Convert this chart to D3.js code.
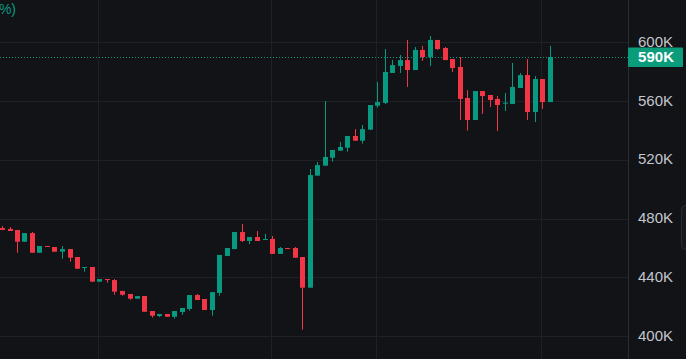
<!DOCTYPE html>
<html><head><meta charset="utf-8">
<script src="https://cdn.jsdelivr.net/npm/d3@7/dist/d3.min.js"></script>
<style>
html,body{margin:0;padding:0;background:#121317;overflow:hidden;}
svg{display:block;font-family:"Liberation Sans",Arial,sans-serif;}
</style></head><body>
<svg id="c" width="686" height="359"></svg>
<script>
// OHLC values in thousands (K)
const openVals  = [473.5,472.9,472.2,464.2,470.1,456.7,461.3,460.6,457.4,459.2,453.8,446.5,447.0,437.0,438.8,438.1,430.7,428.6,425.4,427.2,417.0,413.6,415.0,413.1,416.3,418.4,427.9,425.2,417.7,429.3,454.5,459.2,470.8,464.7,467.4,465.4,466.1,455.9,459.9,459.9,453.8,432.9,509.2,516.0,521.4,526.2,528.2,536.2,533.0,540.5,556.8,558.7,579.1,583.9,587.9,581.1,594.8,590.0,601.6,596.1,588.6,583.2,562.1,547.1,566.8,564.1,561.4,558.2,558.0,568.9,577.7,552.5,575.0,559.3];
const highVals  = [474.9,474.2,472.2,470.1,470.8,461.3,461.3,460.6,461.3,459.2,453.8,447.0,447.0,438.8,438.8,438.8,430.7,428.6,427.2,427.2,417.0,415.0,415.0,417.0,419.1,427.9,428.6,425.2,429.9,455.2,459.9,470.8,476.3,467.4,471.5,469.5,468.1,460.6,459.9,460.6,453.8,513.7,518.5,560.0,526.7,532.1,536.2,540.9,543.7,557.3,573.0,595.4,588.0,591.4,601.6,596.8,597.5,604.3,601.6,596.8,588.6,590.0,567.5,566.8,566.8,564.1,563.4,565.5,585.9,579.1,588.6,577.0,575.0,597.5];
const lowVals   = [472.2,471.5,456.7,464.2,456.7,456.7,460.8,457.4,452.6,450.6,445.8,443.8,437.0,437.0,436.3,428.1,427.4,424.7,425.4,416.5,412.5,412.9,413.1,411.8,414.5,417.2,424.5,417.7,413.8,427.4,454.5,459.2,464.0,462.6,464.7,465.4,455.9,455.9,459.2,453.3,404.3,432.9,509.2,516.0,518.7,526.2,525.5,533.0,531.0,540.5,555.5,558.0,579.1,579.1,569.6,581.1,587.3,583.9,594.8,587.9,579.8,547.1,539.9,547.1,551.2,555.9,539.6,553.2,558.0,568.9,547.1,545.7,554.6,559.3];
const closeVals = [472.2,471.5,464.2,470.1,456.7,461.3,460.8,457.4,459.2,453.3,445.8,447.0,437.0,438.8,438.3,430.2,428.1,425.4,427.2,416.5,413.8,415.0,413.1,417.0,419.1,427.9,424.5,417.7,429.9,455.2,459.9,470.8,464.7,467.4,464.7,466.1,455.9,459.9,459.2,453.3,432.9,509.6,516.4,521.9,526.7,528.7,536.2,533.0,540.9,557.3,559.3,579.8,584.5,587.9,581.1,594.8,590.0,601.6,595.4,587.9,582.5,561.4,547.1,566.8,563.4,560.7,557.3,558.9,569.6,577.7,552.5,575.0,559.3,590.0];
const tickValues = [400,440,480,520,560,600];
const tickLabels = ["400K","440K","480K","520K","560K","600K"];
const gridCandles = [13,36,50,72];
const lastPrice = 590;
const lastLabel = "590K";
const headerText = "(+1.29%)";

const W = 686, H = 359, plotRight = 628;
const UP = "#089981", DOWN = "#f23645";
const svg = d3.select("#c");
svg.append("rect").attr("width",W).attr("height",H).attr("fill","#121317");

const n = openVals.length;
const x = d3.scaleLinear().domain([0, n-1]).range([2, 549.5]);
const y = d3.scaleLinear().domain([400,600]).range([336,42.3]);

// horizontal grid
svg.append("g").selectAll("line").data(tickValues).join("line")
  .attr("x1",0).attr("x2",plotRight)
  .attr("y1",d=>Math.round(y(d))+0.5).attr("y2",d=>Math.round(y(d))+0.5)
  .attr("stroke","#1f2126").attr("stroke-width",1);
// vertical grid
svg.append("g").selectAll("line").data(gridCandles).join("line")
  .attr("x1",d=>Math.round(x(d))-0.5).attr("x2",d=>Math.round(x(d))-0.5)
  .attr("y1",0).attr("y2",H)
  .attr("stroke","#1f2126").attr("stroke-width",1);

// axis separator
svg.append("line").attr("x1",plotRight+0.5).attr("x2",plotRight+0.5).attr("y1",0).attr("y2",H)
  .attr("stroke","#2a2d33");

// last price line
svg.append("line").attr("x1",0).attr("x2",plotRight)
  .attr("y1",Math.round(y(lastPrice))+0.5).attr("y2",Math.round(y(lastPrice))+0.5)
  .attr("stroke",UP).attr("stroke-width",1).attr("stroke-dasharray","1,2");

// candles
const idx = d3.range(n);
const g = svg.append("g");
g.selectAll("line.w").data(idx).join("line").attr("class","w")
  .attr("x1",i=>Math.round(x(i))+0.5).attr("x2",i=>Math.round(x(i))+0.5)
  .attr("y1",i=>y(highVals[i])).attr("y2",i=>y(lowVals[i]))
  .attr("stroke",i=>closeVals[i]>=openVals[i]?UP:DOWN).attr("stroke-width",1);
g.selectAll("rect.b").data(idx).join("rect").attr("class","b")
  .attr("x",i=>Math.round(x(i))-2)
  .attr("width",5)
  .attr("y",i=>y(Math.max(openVals[i],closeVals[i])))
  .attr("height",i=>Math.max(1, Math.abs(y(openVals[i])-y(closeVals[i]))))
  .attr("fill",i=>closeVals[i]>=openVals[i]?UP:DOWN);

// right axis
const axis = d3.axisRight(y).tickValues(tickValues)
  .tickFormat(d=>tickLabels[tickValues.indexOf(d)]).tickSize(0).tickPadding(10);
const ag = svg.append("g").attr("transform",`translate(${plotRight},0)`).call(axis);
ag.select(".domain").remove();
ag.selectAll("text").attr("fill","#c3c6cd").attr("font-size",15).attr("dy","0.28em")
  .attr("font-family","'Liberation Sans',Arial,sans-serif");

// last price badge
const by = y(lastPrice);
svg.append("rect").attr("x",plotRight).attr("y",by-9.5).attr("width",55).attr("height",19.5)
  .attr("fill","#0b9c7c").attr("rx",1);
svg.append("text").attr("x",plotRight+10).attr("y",by).attr("dy","0.36em")
  .attr("fill","#ffffff").attr("font-size",15).attr("font-weight","bold")
  .attr("textLength",36).text(lastLabel);

// header text (clipped at left edge as in the reference)
svg.append("text").attr("x",16).attr("y",14).attr("text-anchor","end")
  .attr("fill",UP).attr("font-size",14).text(headerText);

// scroll handle
svg.append("rect").attr("x",681.5).attr("y",205.5).attr("width",10).attr("height",44).attr("rx",4)
  .attr("fill","#17191d").attr("stroke","#2a2d33");
</script>
</body></html>
